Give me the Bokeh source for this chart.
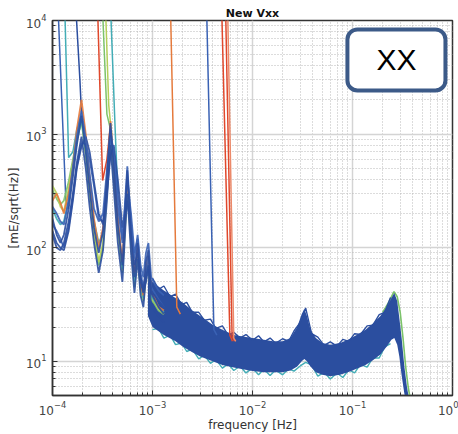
from bokeh.plotting import figure
from bokeh.models import FixedTicker, Label
from bokeh.embed import file_html
from bokeh.resources import INLINE

# ---------------- data ----------------
F_LO = [1.0e-4, 1.1e-4, 1.2e-4, 1.3e-4, 1.45e-4, 1.6e-4, 1.75e-4, 1.95e-4, 2.15e-4, 2.35e-4,
        2.6e-4, 2.9e-4, 3.2e-4, 3.5e-4, 3.8e-4, 4.1e-4, 4.5e-4, 5.0e-4, 5.6e-4, 6.1e-4,
        6.6e-4, 7.1e-4, 7.6e-4, 8.1e-4, 8.6e-4, 9.1e-4, 9.7e-4, 1.05e-3, 1.15e-3, 1.3e-3]

LO_A = [180, 130, 110, 130, 220, 420, 800, 1450, 700, 330, 150, 90, 140, 400, 1250, 500, 160, 70, 480, 130,
        55, 110, 50, 40, 75, 95, 40, 38, 34, 30]
LO_B = [130, 100, 95, 110, 170, 300, 560, 950, 500, 230, 110, 60, 95, 260, 800, 330, 110, 50, 300, 90,
        40, 80, 38, 30, 55, 70, 30, 28, 25, 22]
LO_C = [230, 200, 170, 160, 260, 520, 950, 1600, 900, 450, 220, 170, 200, 480, 1100, 650, 230, 110, 520, 160,
        80, 130, 70, 55, 90, 110, 55, 48, 42, 38]
LO_D = [160, 140, 120, 100, 150, 280, 520, 830, 820, 600, 350, 180, 170, 350, 900, 700, 300, 120, 400, 200,
        90, 120, 60, 45, 60, 85, 45, 40, 35, 30]
LO_E = [320, 270, 240, 260, 380, 600, 900, 1300, 650, 300, 130, 70, 100, 300, 900, 420, 140, 60, 330, 110,
        45, 90, 42, 34, 55, 70, 35, 32, 28, 26]
LO_F = [260, 300, 250, 200, 300, 500, 1100, 2000, 1000, 420, 180, 100, 150, 420, 1300, 550, 180, 75, 420, 140,
        60, 100, 48, 38, 65, 85, 40, 36, 30, 28]
LO_G = [220, 180, 160, 170, 260, 480, 850, 1350, 750, 360, 170, 110, 130, 380, 1000, 480, 170, 65, 380, 120,
        50, 95, 45, 36, 60, 75, 38, 34, 30, 27]
LO_H = [350, 300, 230, 210, 330, 560, 900, 1400, 700, 320, 140, 75, 110, 330, 950, 450, 150, 62, 350, 115,
        48, 92, 44, 35, 58, 72, 36, 33, 29, 26]
LO_I = [140, 110, 100, 95, 140, 260, 500, 780, 950, 700, 380, 200, 160, 300, 650, 800, 400, 150, 260, 150,
        70, 90, 55, 42, 50, 65, 40, 35, 30, 26]

# dense band of spectra above ~1 mHz (envelope)
F_BAND = [9.0e-4, 1.0e-3, 1.3e-3, 1.7e-3, 2.0e-3, 2.5e-3, 3.0e-3, 4.0e-3, 5.0e-3, 6.5e-3,
          8.0e-3, 1.0e-2, 1.3e-2, 1.6e-2, 2.0e-2, 2.4e-2, 2.8e-2, 3.1e-2, 3.3e-2, 3.5e-2,
          3.8e-2, 4.3e-2, 5.0e-2, 6.0e-2, 7.5e-2, 9.0e-2, 1.1e-1, 1.35e-1, 1.6e-1, 1.9e-1,
          2.2e-1, 2.45e-1, 2.62e-1, 2.8e-1, 2.94e-1, 3.1e-1, 3.3e-1, 3.5e-1, 3.7e-1]
BAND_HI = [60, 50, 42, 36, 33, 28, 25, 21, 19, 17,
           16.5, 16, 15.5, 15, 15, 16, 20, 26, 29, 25,
           19, 16, 14.5, 14, 14.5, 15.5, 17, 19, 21.5, 25,
           30, 36, 40, 34, 24, 16, 9, 6, 4.5]
BAND_LO = [25, 20, 17, 15, 13.5, 12, 11, 10, 9.3, 8.8,
           8.5, 8.2, 8, 8, 8, 8.3, 9, 10, 10.5, 10,
           9, 8, 7.6, 7.4, 7.6, 8, 8.6, 9.3, 10.2, 11.5,
           13.5, 15.5, 16, 14, 11, 7.5, 5.2, 4, 3]

# ragged edges of the band
F_SPIKE = [1.0e-3, 1.15e-3, 1.3e-3, 1.5e-3, 1.7e-3, 1.95e-3, 2.2e-3, 2.5e-3, 2.9e-3, 3.3e-3,
           3.8e-3, 4.3e-3, 5.0e-3, 5.7e-3, 6.5e-3, 7.5e-3, 8.6e-3, 1.0e-2, 1.15e-2, 1.3e-2,
           1.5e-2, 1.7e-2, 2.0e-2, 2.3e-2, 2.6e-2, 3.0e-2, 3.4e-2, 3.9e-2, 4.5e-2, 5.2e-2,
           6.0e-2, 7.0e-2, 8.0e-2, 9.2e-2, 1.05e-1, 1.2e-1, 1.4e-1, 1.6e-1, 1.85e-1, 2.1e-1, 2.4e-1]
SPIKE_HI = [54, 43, 46, 37, 39, 31.5, 33, 27, 27, 23,
            23.5, 19.5, 20.5, 17, 18, 16, 17.2, 15.3, 16.8, 14.8,
            16, 14.4, 15.8, 15, 18.5, 22, 29.5, 17.5, 16.3, 13.8,
            14.8, 13.6, 15.6, 15, 17.5, 17.2, 20.5, 20.8, 25.8, 27, 36.5]
SPIKE_LO = [19, 19.5, 16, 17, 14, 14.5, 12.2, 12.8, 10.5, 11.3,
            9.6, 10.4, 8.7, 9.5, 8.3, 9.1, 7.9, 8.7, 7.6, 8.5,
            7.5, 8.4, 7.6, 8.6, 8.2, 9.1, 9.8, 9.3, 7.4, 8.0,
            7.0, 7.9, 7.2, 8.4, 7.9, 9.4, 8.9, 10.7, 10.7, 13.4, 14.3]

# green trace visible on the falling right edge
F_RIGHT = [0.2, 0.23, 0.26, 0.28, 0.3, 0.32, 0.34, 0.36, 0.38]
RIGHT_Y = [27, 33, 41, 37, 27, 16, 9, 6, 4.5]

# steep transients entering from the top
TR_F = [
    [1.14e-4, 1.25e-4, 1.36e-4, 1.45e-4],
    [1.33e-4, 1.45e-4, 1.6e-4, 1.75e-4, 1.95e-4],
    [1.72e-4, 1.88e-4, 1.95e-4],
    [2.83e-4, 3.17e-4, 3.5e-4, 3.8e-4],
    [3.17e-4, 3.5e-4, 3.8e-4],
    [3.4e-4, 3.65e-4, 3.9e-4],
    [3.82e-4, 4.25e-4, 4.5e-4],
    [1.52e-3, 1.75e-3, 1.9e-3],
    [3.49e-3, 4.11e-3, 4.4e-3],
    [4.94e-3, 5.94e-3, 6.3e-3],
    [5.4e-3, 6.25e-3, 6.6e-3],
    [5.66e-3, 6.5e-3, 6.8e-3],
]
TR_Y = [
    [1.2e4, 1600, 260, 220],
    [1.2e4, 620, 700, 1100, 1500],
    [1.2e4, 3000, 1500],
    [1.2e4, 390, 600, 1200],
    [1.2e4, 1500, 1100],
    [1.2e4, 1800, 1000],
    [1.2e4, 1000, 300],
    [1.1e4, 30, 26],
    [1.1e4, 19, 17],
    [1.1e4, 17, 15],
    [1.1e4, 16.6, 15],
    [1.1e4, 16, 15],
]

X_TICKS = [1e-4, 1e-3, 1e-2, 1e-1, 1e0]
Y_TICKS = [1e1, 1e2, 1e3, 1e4]

# ---------------- styles ----------------
BLUE = "#2b4e9f"
BLUE2 = "#3a62b4"
TEAL = "#43adb6"
GREEN = "#7cc36b"
YGREEN = "#b4cf5a"
ORANGE = "#e57a3c"
RED = "#e0482c"
LRED = "#ec8a6a"

lo_traces = [(LO_E, GREEN), (LO_H, YGREEN), (LO_G, TEAL), (LO_F, ORANGE),
             (LO_D, BLUE2), (LO_I, BLUE), (LO_B, BLUE), (LO_C, BLUE2), (LO_A, BLUE)]
tr_colors = [BLUE2, TEAL, BLUE, RED, GREEN, YGREEN, TEAL, ORANGE, BLUE2, RED, RED, LRED]

FONT = "DejaVu Sans"

p = figure(frame_width=400, frame_height=375,
           x_axis_type="log", y_axis_type="log",
           x_range=(1e-4, 1e0), y_range=(5, 1e4),
           output_backend="svg", toolbar_location=None,
           title="New Vxx",
           min_border_left=52, min_border_right=6, min_border_top=20, min_border_bottom=0)

p.title.align = "center"
p.title.text_font = FONT
p.title.text_font_size = "11px"
p.title.text_font_style = "bold"
p.title.text_color = "#111111"
p.title.standoff = 1
p.title.offset = 0

minor_x = [m * d for d in X_TICKS[:-1] for m in range(2, 10)]
minor_y = [m * d for d in [1e0] + Y_TICKS[:-1] for m in range(2, 10) if m * d >= 5]
p.xaxis.ticker = FixedTicker(ticks=X_TICKS, minor_ticks=minor_x)
p.yaxis.ticker = FixedTicker(ticks=Y_TICKS, minor_ticks=minor_y)

p.xgrid.grid_line_color = "#d4d4d4"
p.ygrid.grid_line_color = "#d4d4d4"
p.xgrid.grid_line_width = 1.5
p.ygrid.grid_line_width = 1.5
p.xgrid.minor_grid_line_color = "#b8b8b8"
p.ygrid.minor_grid_line_color = "#b8b8b8"
p.xgrid.minor_grid_line_dash = "1 2"
p.ygrid.minor_grid_line_dash = "1 2"

for ax in (p.xaxis, p.yaxis):
    ax.major_tick_in = 5
    ax.major_tick_out = 0
    ax.minor_tick_in = 3
    ax.minor_tick_out = 0
    ax.axis_line_color = "#333333"
    ax.axis_line_width = 1.5
    ax.major_tick_line_color = "#333333"
    ax.minor_tick_line_color = "#333333"
    ax.major_label_text_font = FONT
    ax.major_label_text_font_size = "12px"
    ax.major_label_text_color = "#444444"
    ax.axis_label_text_font = FONT
    ax.axis_label_text_font_size = "12px"
    ax.axis_label_text_font_style = "normal"
    ax.axis_label_text_color = "#333333"

p.xaxis.axis_label = "frequency [Hz]"
p.yaxis.axis_label = "[mE/sqrt(Hz)]"
p.xaxis.major_label_standoff = 5
p.xaxis.axis_label_standoff = 0
p.yaxis.major_label_standoff = 6
p.yaxis.axis_label_standoff = 2

p.outline_line_color = "#333333"
p.outline_line_width = 1.5
p.outline_line_alpha = 1

# band and its ragged edges
p.line(F_SPIKE, SPIKE_LO, line_color=TEAL, line_width=1.4)
p.line(F_RIGHT, RIGHT_Y, line_color=GREEN, line_width=1.6)
p.varea(x=F_BAND, y1=BAND_LO, y2=BAND_HI, fill_color=BLUE, fill_alpha=1)
p.line(F_SPIKE, SPIKE_HI, line_color=BLUE, line_width=1.4)

# transients
for fx, fy, c in zip(TR_F, TR_Y, tr_colors):
    p.line(fx, fy, line_color=c, line_width=1.5)

# low-frequency traces
for ys, c in lo_traces:
    p.line(F_LO, ys, line_color=c, line_width=1.8, line_alpha=0.9)

box = Label(x=0.275, y=4500, text="XX", text_align="center", text_baseline="middle",
            text_font="Liberation Sans", text_font_size="30px", text_color="#000000",
            background_fill_color="white", background_fill_alpha=1,
            border_line_color="#3c5a88", border_line_width=4,
            border_radius=10, padding=dict(left=29, right=29, top=14, bottom=14))
p.add_layout(box)

open("out.html", "w").write(file_html(p, INLINE))
